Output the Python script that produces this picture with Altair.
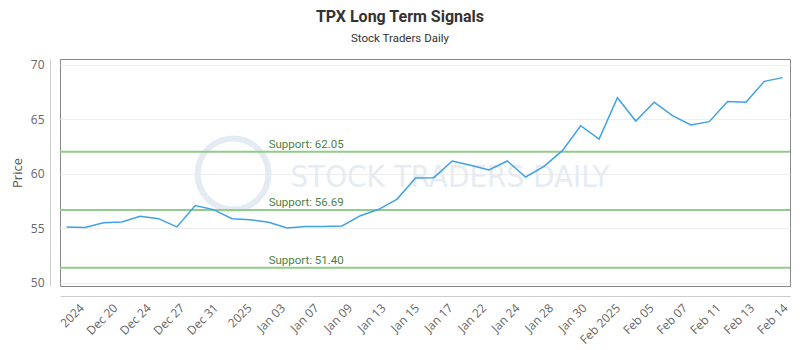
import altair as alt
import pandas as pd
import numpy as np

# ---- data ----
prices = [55.14, 55.08, 55.53, 55.60, 56.12, 55.90, 55.14, 57.10, 56.73, 55.90,
          55.81, 55.57, 55.05, 55.17, 55.17, 55.23, 56.17, 56.76, 57.70, 59.63,
          59.66, 61.19, 60.80, 60.37, 61.19, 59.72, 60.70, 62.14, 64.43, 63.21,
          67.00, 64.86, 66.58, 65.35, 64.50, 64.80, 66.64, 66.58, 68.50, 68.84]
tick_labels = ["2024", "Dec 20", "Dec 24", "Dec 27", "Dec 31", "2025", "Jan 03",
               "Jan 07", "Jan 09", "Jan 13", "Jan 15", "Jan 17", "Jan 22", "Jan 24",
               "Jan 28", "Jan 30", "Feb 2025", "Feb 05", "Feb 07", "Feb 11",
               "Feb 13", "Feb 14"]
supports = [62.05, 56.69, 51.40]

n = len(prices)
df = pd.DataFrame({"i": list(range(n)), "price": prices})
sup_df = pd.DataFrame({"level": supports,
                       "label": [f"Support: {s:.2f}" for s in supports]})

# tick positions spread evenly across the index range
first_t, last_t = 0.62, n - 1.05
tick_vals = [float(v) for v in np.linspace(first_t, last_t, len(tick_labels))]
step = (last_t - first_t) / (len(tick_labels) - 1)
label_js = "[" + ",".join(f"'{t}'" for t in tick_labels) + "]"
label_expr = f"{label_js}[round((datum.value - {first_t}) / {step})]"

xscale = alt.Scale(domain=[-0.365, n - 1 + 0.4], nice=False, zero=False)
yscale = alt.Scale(domain=[49.72, 70.55], nice=False, zero=False)

x_axis = alt.Axis(values=tick_vals, labelExpr=label_expr, labelAngle=-45,
                  grid=False, ticks=False, offset=10, domainColor="#cccccc",
                  labelColor="#666666", labelFont="Open Sans", labelFontSize=12,
                  labelPadding=6, labelOverlap=False, labelFlush=False,
                  labelBound=False)
y_axis = alt.Axis(values=[50, 55, 60, 65, 70], grid=True, gridColor="#eeeeee",
                  ticks=False, offset=10, domainColor="#cccccc",
                  labelColor="#666666", labelFont="Open Sans", labelFontSize=12,
                  labelPadding=6, titleFont="Open Sans", titleFontSize=13,
                  titleFontWeight="normal", titleColor="#555555",
                  titlePadding=6)

wm = pd.DataFrame({"t": ["STOCK TRADERS DAILY"]})
ring = alt.Chart(wm).mark_point(shape="circle", filled=False, size=5027,
                                strokeWidth=6, color="#e4ebf2", opacity=1).encode(
    x=alt.value(173), y=alt.value(115))
wm_text = alt.Chart(wm).mark_text(font="DejaVu Sans Condensed", fontSize=31,
                                  color="#e6ecf2", align="center", baseline="middle").encode(
    x=alt.value(390), y=alt.value(119), text="t:N")

line = alt.Chart(df).mark_line(color="#40a1e6", strokeWidth=1.5).encode(
    x=alt.X("i:Q", scale=xscale, title=None, axis=x_axis),
    y=alt.Y("price:Q", scale=yscale, title="Price", axis=y_axis))

rules = alt.Chart(sup_df).mark_rule(color="#92cc8c", strokeWidth=2).encode(
    y=alt.Y("level:Q", scale=yscale, title="Price", axis=y_axis))
rule_text = alt.Chart(sup_df).mark_text(align="left", baseline="alphabetic", dy=-4,
                                        font="Roboto", fontSize=11.5,
                                        color="#4d7f43").encode(
    x=alt.X("lx:Q", scale=xscale, title=None, axis=x_axis),
    y=alt.Y("level:Q", scale=yscale, title="Price", axis=y_axis),
    text="label:N").transform_calculate(lx="11")

chart = alt.layer(ring, wm_text, rules, rule_text, line).properties(
    width=730, height=227,
    title=alt.TitleParams("TPX Long Term Signals", subtitle="Stock Traders Daily",
                          font="Roboto", fontSize=16, fontWeight="bold", color="#333333",
                          subtitleFont="Roboto", subtitleFontSize=11.5,
                          subtitleColor="#333333", anchor="middle", dx=-25,
                          offset=14, subtitlePadding=8),
    autosize=alt.AutoSizeParams(type="none"),
    padding={"left": 52, "top": 51, "right": 2, "bottom": 62},
).configure_view(stroke="#888888", strokeWidth=1)

chart.save("out.html", embed_options={"renderer": "svg", "actions": False})
